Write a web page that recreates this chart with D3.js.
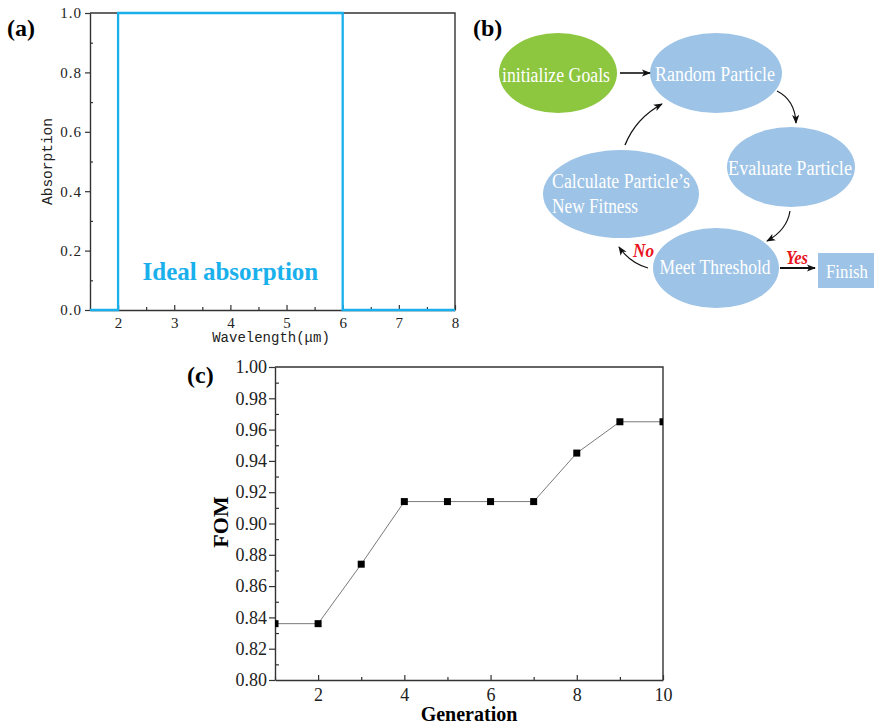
<!DOCTYPE html>
<html>
<head>
<meta charset="utf-8">
<script src="https://cdn.jsdelivr.net/npm/d3@7"></script>
<style>
  body { margin: 0; background: #fff; }
  svg { display: block; }
</style>
</head>
<body>
<svg id="fig" width="874" height="724"></svg>
<script>
// ---- Panel (a): ideal absorption spectrum (step profile) ----
const wavelength = [1.5, 2, 2, 6, 6, 8];
const absorption = [0, 0, 1, 1, 0, 0];
const wlTicks = [2, 3, 4, 5, 6, 7, 8];
const wlMinor = [2.5, 3.5, 4.5, 5.5, 6.5, 7.5];
const absTicks = [0, 0.2, 0.4, 0.6, 0.8, 1.0];
const absMinor = [0.1, 0.3, 0.5, 0.7, 0.9];

// ---- Panel (b): optimisation flow ----
const stepNames = ["init", "random", "evaluate", "meet", "calculate"];
const stepLabels = [
  ["initialize Goals"],
  ["Random Particle"],
  ["Evaluate Particle"],
  ["Meet Threshold"],
  ["Calculate Particle\u2019s", "New Fitness"]
];
const finishLabel = "Finish";
const branchLabels = ["Yes", "No"];

// ---- Panel (c): figure of merit per generation ----
const generation = [1, 2, 3, 4, 5, 6, 7, 8, 9, 10];
const fom = [0.836, 0.836, 0.874, 0.914, 0.914, 0.914, 0.914, 0.945, 0.965, 0.965];
const genTicks = [2, 4, 6, 8, 10];
const genMinor = [1, 3, 5, 7, 9];
const fomTicks = [0.80, 0.82, 0.84, 0.86, 0.88, 0.90, 0.92, 0.94, 0.96, 0.98, 1.00];
const fomMinor = [0.81, 0.83, 0.85, 0.87, 0.89, 0.91, 0.93, 0.95, 0.97, 0.99];

const svg = d3.select("#fig");
const SERIF = "'Liberation Serif', 'Times New Roman', serif";
const AXIS = "#333";

// ================= Panel (a) =================
const xA = d3.scaleLinear().domain([1.5, 8]).range([90, 455]);
const yA = d3.scaleLinear().domain([0, 1]).range([310, 13]);
const gA = svg.append("g");

function styleAxis(g, font, size, spacing) {
  g.select(".domain").attr("stroke", AXIS).attr("stroke-width", 1.4);
  g.selectAll(".tick line").attr("stroke", AXIS).attr("stroke-width", 1.2);
  g.selectAll(".tick text").attr("font-family", font).attr("font-size", size)
    .attr("letter-spacing", spacing || 0).attr("fill", "#222");
}

// frame: top and right edges
gA.append("path")
  .attr("d", `M${xA(1.5)},${yA(1)}H${xA(8)}V${yA(0)}`)
  .attr("fill", "none").attr("stroke", AXIS).attr("stroke-width", 1.4);

const axA_x = gA.append("g").attr("transform", `translate(0,${yA(0)})`)
  .call(d3.axisBottom(xA).tickValues(wlTicks).tickSizeInner(-5).tickSizeOuter(0)
        .tickPadding(7).tickFormat(d3.format("d")));
styleAxis(axA_x, SERIF, 15);
const axA_xm = gA.append("g").attr("transform", `translate(0,${yA(0)})`)
  .call(d3.axisBottom(xA).tickValues(wlMinor).tickSize(-3).tickFormat(""));
axA_xm.select(".domain").remove();
styleAxis(axA_xm, SERIF, 10);

const axA_y = gA.append("g").attr("transform", `translate(${xA(1.5)},0)`)
  .call(d3.axisLeft(yA).tickValues(absTicks).tickSizeInner(5).tickSizeOuter(0)
        .tickPadding(3).tickFormat(d3.format(".1f")));
styleAxis(axA_y, SERIF, 15, 1);
const axA_ym = gA.append("g").attr("transform", `translate(${xA(1.5)},0)`)
  .call(d3.axisLeft(yA).tickValues(absMinor).tickSize(-3).tickFormat(""));
axA_ym.select(".domain").remove();
styleAxis(axA_ym, SERIF, 10);

// spectrum
const lineA = d3.line().x((d, i) => xA(wavelength[i])).y(d => yA(d));
gA.append("path").datum(absorption)
  .attr("d", lineA)
  .attr("fill", "none").attr("stroke", "#19b0ec").attr("stroke-width", 2.3)
  .attr("stroke-linejoin", "miter");

gA.append("text")
  .attr("x", xA(4)).attr("y", yA(0.1))
  .attr("text-anchor", "middle")
  .attr("font-family", SERIF).attr("font-weight", "bold").attr("font-size", 25)
  .attr("fill", "#19b0ec")
  .text("Ideal absorption");

gA.append("text")
  .attr("transform", `translate(52,${(yA(0.35) + yA(0.65)) / 2}) rotate(-90)`)
  .attr("text-anchor", "middle")
  .attr("font-family", "'Liberation Mono', monospace").attr("font-size", 14.5)
  .attr("fill", "#222")
  .text("Absorption");

gA.append("text")
  .attr("x", 271).attr("y", 342)
  .attr("text-anchor", "middle")
  .attr("font-family", "'Liberation Mono', monospace").attr("font-size", 14)
  .attr("fill", "#222")
  .text("Wavelength(\u03bcm)");

svg.append("text").attr("x", 7).attr("y", 36)
  .attr("font-family", SERIF).attr("font-weight", "bold").attr("font-size", 24)
  .text("(a)");

// ================= Panel (b) =================
const gB = svg.append("g");
const defs = svg.append("defs");
defs.append("marker")
  .attr("id", "arrow").attr("markerUnits", "userSpaceOnUse")
  .attr("viewBox", "0 0 10 8").attr("refX", 9).attr("refY", 4)
  .attr("markerWidth", 9).attr("markerHeight", 7.5).attr("orient", "auto")
  .append("path").attr("d", "M0,0L10,4L0,8L2.5,4Z").attr("fill", "#111");

const nodeLayout = {
  init:      { cx: 558, cy: 73,  rx: 59, ry: 40, fill: "#8dc63f", lines: [[556, 82, 108, "middle"]] },
  random:    { cx: 716, cy: 73,  rx: 66, ry: 40, fill: "#9dc3e6", lines: [[715, 81, 120, "middle"]] },
  evaluate:  { cx: 791, cy: 167, rx: 64, ry: 40, fill: "#9dc3e6", lines: [[790, 175, 124, "middle"]] },
  meet:      { cx: 716, cy: 268, rx: 63, ry: 40, fill: "#9dc3e6", lines: [[715, 274, 111, "middle"]] },
  calculate: { cx: 621, cy: 194, rx: 78, ry: 44, fill: "#9dc3e6", lines: [[552, 188, 138, "start"], [552, 213, 86, "start"]] }
};

stepNames.forEach((name, i) => {
  const L = nodeLayout[name];
  gB.append("ellipse")
    .attr("cx", L.cx).attr("cy", L.cy).attr("rx", L.rx).attr("ry", L.ry)
    .attr("fill", L.fill);
  stepLabels[i].forEach((txt, j) => {
    const [x, y, w, anchor] = L.lines[j];
    gB.append("text")
      .attr("x", x).attr("y", y).attr("text-anchor", anchor)
      .attr("font-family", SERIF).attr("font-size", 20)
      .attr("textLength", w).attr("lengthAdjust", "spacingAndGlyphs")
      .attr("fill", "#fff")
      .text(txt);
  });
});

// terminal box
gB.append("rect").attr("x", 818).attr("y", 253).attr("width", 56).attr("height", 35)
  .attr("fill", "#9dc3e6");
gB.append("text").attr("x", 826).attr("y", 278)
  .attr("font-family", SERIF).attr("font-size", 18)
  .attr("textLength", 42).attr("lengthAdjust", "spacingAndGlyphs")
  .attr("fill", "#fff").text(finishLabel);

// connectors
const arrows = [
  { d: "M620,73L650,73", w: 1.6 },
  { d: "M777,91Q795,100 796,123", w: 1.2 },
  { d: "M790,211Q787,230 767,241", w: 1.2 },
  { d: "M648,268Q630,263 619,247", w: 1.2 },
  { d: "M625,145Q636,118 662,104", w: 1.4 },
  { d: "M780,268L815,268", w: 2.2 }
];
arrows.forEach(a => {
  gB.append("path").attr("d", a.d)
    .attr("fill", "none").attr("stroke", "#111").attr("stroke-width", a.w)
    .attr("marker-end", "url(#arrow)");
});

gB.append("text").attr("x", 786).attr("y", 264)
  .attr("font-family", SERIF).attr("font-weight", "bold").attr("font-style", "italic")
  .attr("font-size", 18).attr("textLength", 22).attr("lengthAdjust", "spacingAndGlyphs")
  .attr("fill", "#e8141c").text(branchLabels[0]);
gB.append("text").attr("x", 633).attr("y", 257)
  .attr("font-family", SERIF).attr("font-weight", "bold").attr("font-style", "italic")
  .attr("font-size", 18).attr("textLength", 21).attr("lengthAdjust", "spacingAndGlyphs")
  .attr("fill", "#e8141c").text(branchLabels[1]);

svg.append("text").attr("x", 473).attr("y", 36)
  .attr("font-family", SERIF).attr("font-weight", "bold").attr("font-size", 24)
  .text("(b)");

// ================= Panel (c) =================
const xC = d3.scaleLinear().domain([1, 10]).range([275, 663]);
const yC = d3.scaleLinear().domain([0.80, 1.00]).range([680, 367]);
const gC = svg.append("g");

defs.append("clipPath").attr("id", "plotC")
  .append("rect")
  .attr("x", xC(1)).attr("y", yC(1.0))
  .attr("width", xC(10) - xC(1)).attr("height", yC(0.8) - yC(1.0));

gC.append("path")
  .attr("d", `M${xC(1)},${yC(1)}H${xC(10)}V${yC(0.8)}`)
  .attr("fill", "none").attr("stroke", AXIS).attr("stroke-width", 1.4);

const axC_x = gC.append("g").attr("transform", `translate(0,${yC(0.8)})`)
  .call(d3.axisBottom(xC).tickValues(genTicks).tickSizeInner(-5).tickSizeOuter(0)
        .tickPadding(8).tickFormat(d3.format("d")));
styleAxis(axC_x, SERIF, 18);
const axC_xm = gC.append("g").attr("transform", `translate(0,${yC(0.8)})`)
  .call(d3.axisBottom(xC).tickValues(genMinor).tickSize(-3).tickFormat(""));
axC_xm.select(".domain").remove();
styleAxis(axC_xm, SERIF, 10);

const axC_y = gC.append("g").attr("transform", `translate(${xC(1)},0)`)
  .call(d3.axisLeft(yC).tickValues(fomTicks).tickSizeInner(6).tickSizeOuter(0)
        .tickPadding(2).tickFormat(d3.format(".2f")));
styleAxis(axC_y, SERIF, 18);
const axC_ym = gC.append("g").attr("transform", `translate(${xC(1)},0)`)
  .call(d3.axisLeft(yC).tickValues(fomMinor).tickSize(-4).tickFormat(""));
axC_ym.select(".domain").remove();
styleAxis(axC_ym, SERIF, 10);

const plotC = gC.append("g").attr("clip-path", "url(#plotC)");
const lineC = d3.line().x((d, i) => xC(generation[i])).y(d => yC(d));
plotC.append("path").datum(fom).attr("d", lineC)
  .attr("fill", "none").attr("stroke", "#7a7a7a").attr("stroke-width", 1);
plotC.selectAll("rect.pt").data(fom).join("rect")
  .attr("class", "pt")
  .attr("x", (d, i) => xC(generation[i]) - 3.5)
  .attr("y", d => yC(d) - 3.5)
  .attr("width", 7).attr("height", 7)
  .attr("fill", "#000");

gC.append("text")
  .attr("transform", `translate(228,522) rotate(-90)`)
  .attr("text-anchor", "middle")
  .attr("font-family", SERIF).attr("font-weight", "bold").attr("font-size", 22)
  .text("FOM");

gC.append("text")
  .attr("x", xC(5.5)).attr("y", 721)
  .attr("text-anchor", "middle")
  .attr("font-family", SERIF).attr("font-weight", "bold").attr("font-size", 20)
  .text("Generation");

svg.append("text").attr("x", 187).attr("y", 383)
  .attr("font-family", SERIF).attr("font-weight", "bold").attr("font-size", 24)
  .text("(c)");
</script>
</body>
</html>
